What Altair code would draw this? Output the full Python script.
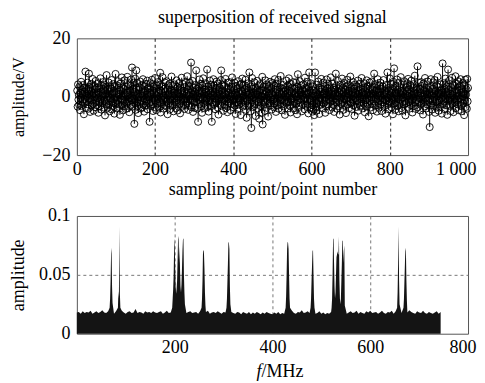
import altair as alt
import pandas as pd

# ---- top panel: received signal (sampling points 1..1000) ----
signal = [
    2.1, -3.4, 4.2, -1.0, 0.6, -2.8, 3.5, -4.6, 1.3, -0.4, 5.1, -3.1, 2.4, -1.7, 0.9, 4.0, -2.2, -6.0, 3.1, -0.8, 1.6, 8.6, -3.9, 2.7, -1.5,
    0.3, 4.8, -2.6, 1.9, -4.1, 7.9, -0.7, 3.3, -5.2, 2.0, -1.2, 4.4, -3.0, 0.5, 6.1, -2.4, 1.1, -4.8, 3.7, -0.2, 2.6, -3.6, 5.4, -1.9, 0.8,
    -2.9, 3.0, -0.5, 4.6, -5.5, 1.4, -1.8, 2.9, -3.3, 6.3, -0.9, 1.7, -4.4, 3.8, -2.0, 0.4, 5.0, -3.7, 2.2, -1.3, 4.1, -6.4, 0.7, 3.4, -2.5,
    7.4, -1.1, 2.5, -3.8, 0.1, 4.9, -2.7, 1.8, -5.0, 3.2, -0.6, 2.8, -4.3, 5.7, -1.6, 0.9, -3.2, 4.3, -2.1, 1.5, -5.8, 3.6, -0.3, 7.8, -2.3,
    1.2, -4.0, 3.9, -1.4, 5.3, -2.6, 0.6, -3.5, 2.3, -6.2, 4.5, -0.8, 1.9, -2.9, 6.6, -1.0, 3.1, -4.7, 0.2, 2.7, -3.3, 5.6, -1.7, 0.8, -4.2,
    3.5, -2.2, 1.3, 6.8, -3.9, 0.5, -1.6, 4.2, -5.3, 2.1, -0.4, 3.7, -2.8, 5.9, -1.2, 10.0, -3.4, 2.6, -0.7, 4.8, -2.0, -9.3, 1.6, 6.2, -4.5,
    3.0, 9.0, -1.9, 4.7, -3.1, 0.9, -5.6, 2.4, -0.1, 3.3, -2.4, 5.2, -4.0, 1.0, -1.4, 4.0, -3.6, 0.3, 6.0, -2.7, 1.7, -5.1, 3.6, -0.9, 2.0,
    -3.0, 4.4, -1.5, 0.7, 5.5, -4.3, 2.8, -0.2, 3.0, -2.1, -8.6, 1.4, 4.6, -3.2, 0.8, -1.8, 5.8, -2.5, 2.2, -4.9, 3.4, -0.6, 1.2, -3.5, 6.4,
    -1.3, 2.9, -4.6, 0.4, 3.8, -2.3, 5.0, -0.8, 1.6, -3.7, 4.1, -1.9, 8.2, -5.4, 2.0, -0.5, 3.5, -2.6, 6.7, -1.1, 0.3, -4.1, 2.7, -2.9, 4.9,
    -0.4, 1.8, -3.3, 5.3, -1.7, 2.5, -6.0, 0.6, 3.9, -2.2, 1.1, -4.4, 4.5, -0.9, 2.3, -3.0, 6.9, -1.4, 0.2, -2.7, 3.6, -5.0, 1.5, -0.3, 4.2,
    -2.0, 2.6, -3.9, 0.9, 5.6, -1.2, 3.2, -4.7, 1.3, -0.6, 4.7, -2.4, 0.1, -5.7, 3.0, -1.6, 2.1, 6.5, -3.4, 0.7, -1.0, 4.3, -2.8, 1.9, -4.2,
    3.4, -0.7, 5.1, -3.0, 1.0, -2.1, 7.0, -1.5, 2.4, -4.5, 0.5, 3.7, -2.9, 4.8, -0.9, 1.4, 11.7, -3.6, 2.2, -1.3, 5.4, -5.2, 0.8, 3.1, -2.0,
    1.6, -3.8, 4.0, -0.4, 9.0, -1.8, 2.7, -4.1, 0.2, -8.6, 3.3, -1.1, 5.9, -2.5, 1.2, -0.2, 4.4, -3.2, 2.0, -5.5, 3.8, -0.6, 6.3, -2.3, 0.9,
    -4.0, 2.5, -1.4, 4.6, -2.7, 1.7, -0.8, 9.3, -3.5, 0.6, 3.5, -5.1, 2.2, -1.6, 5.5, -0.3, 1.1, -3.3, 4.1, -8.6, 2.8, -1.9, 0.4, 6.0, -2.6,
    3.9, -0.5, 1.5, -4.3, 2.9, -2.0, 5.2, -1.0, 0.3, -3.7, 4.5, -6.1, 1.8, -0.7, 3.2, -2.4, 0.7, 5.7, 9.0, -3.1, 2.1, -1.5, 4.0, -4.8, 0.5,
    -1.2, 3.6, -2.8, 1.0, 6.1, -3.9, 0.8, -0.4, 2.9, -5.3, 4.7, -1.7, 1.3, -2.2, 5.0, -0.9, 2.4, -4.6, 0.1, 3.4, -2.5, 6.6, -1.3, 0.6, -3.6,
    2.3, -0.8, 4.8, -3.0, 1.2, -5.9, 3.7, -1.9, 0.4, 2.8, -4.2, 5.3, -0.6, 1.6, -2.7, 3.9, -1.1, 0.9, -6.3, 4.4, -2.1, 1.9, 6.2, -3.4, 0.2,
    -1.6, 4.1, -2.9, 2.6, -0.5, 5.8, -4.5, 1.4, -7.2, 3.0, -1.3, 0.7, 4.6, -3.1, 2.0, 8.3, -2.4, 1.1, -5.0, 3.5, -10.7, 0.3, 6.4, -1.8, 2.7,
    -3.5, 1.5, -0.2, 4.9, -2.6, 0.8, -6.6, 3.1, -1.0, 2.2, 5.4, -4.0, 0.6, -1.7, 3.8, -7.5, 1.7, -0.9, 4.3, -3.2, 2.5, -5.6, 0.1, 6.8, -9.5,
    2.1, -1.4, 3.3, -2.0, 0.9, -4.9, 5.6, -0.7, 1.8, -3.8, 4.2, -1.5, 2.6, -6.8, 0.4, 3.6, -2.2, 1.0, 5.1, -3.0, -0.3, 2.9, -4.4, 1.2, 4.7,
    -1.1, 0.5, -3.6, 3.9, -2.3, 6.0, -0.6, 1.3, -5.2, 2.4, -1.8, 4.5, -2.9, 0.2, 5.7, -4.1, 1.6, -0.4, 3.2, -2.5, 7.1, -1.2, 0.8, -4.7, 2.8,
    -0.9, 4.0, -3.3, 1.9, -1.5, 3.0, -6.2, 0.6, 2.3, -2.1, 5.5, -0.2, 1.1, -4.0, 3.7, -1.7, 6.3, -3.0, 0.3, 2.0, -5.4, 4.4, -1.0, 1.5, -2.8,
    3.1, -0.5, 5.0, -3.9, 0.9, -1.9, 2.7, -4.6, 1.2, 4.9, -2.4, 0.1, -6.0, 3.4, 7.7, -1.3, 2.2, -3.5, 0.7, 5.3, -2.0, 1.4, -0.8, 3.8, -5.0,
    0.6, 2.5, -2.7, 4.2, -1.1, 1.8, -4.3, 6.5, -0.4, 2.9, -3.1, 0.9, -1.6, 5.1, -2.5, 1.3, -5.7, 3.3, 8.3, -0.7, 2.0, -3.8, 4.6, -1.2, 0.4,
    -2.9, 3.5, -5.1, 1.0, -4.4, 2.1, -6.3, 0.3, 8.3, -3.6, 1.6, -4.8, 4.1, -2.2, 0.7, -3.4, 5.2, -1.5, 2.4, -5.9, 3.0, -0.6, 1.7, -2.7, 6.1,
    -1.0, 2.6, -4.0, 0.8, 4.8, -2.3, 1.2, -0.3, 3.6, -5.5, 2.0, -1.4, 5.9, -3.2, 0.5, 2.8, -2.6, 4.3, -0.9, 1.5, -4.6, 3.2, -1.8, 6.6, -0.2,
    1.9, -3.7, 4.5, -1.3, 0.6, -2.8, 3.0, -5.2, 2.3, -0.7, 1.1, 7.9, -2.0, 3.8, -4.1, 0.2, 5.4, -1.6, 2.7, -3.3, 1.4, -6.1, 4.0, -0.5, 2.2,
    -2.5, 0.9, 6.2, -1.9, 3.1, -4.5, 1.7, -0.8, 4.7, -3.0, 0.4, 2.4, -5.6, 3.5, -1.2, 5.8, -2.7, 1.0, -0.4, 4.1, -3.9, 2.0, -1.7, 6.9, -2.2,
    0.7, 3.3, -4.2, 1.6, -1.0, 5.0, -2.9, 0.2, 2.8, -6.5, 4.2, -0.6, 1.3, -3.5, 3.6, -1.5, 0.8, 5.5, -4.8, 2.1, -2.1, 1.0, 4.4, -0.3, -3.1,
    2.6, -1.8, 6.4, -0.9, 1.5, -4.0, 3.1, -2.4, 0.5, 4.6, -5.3, 1.9, -1.1, 2.9, -3.4, 5.6, -0.7, 1.2, -2.6, 3.7, -6.7, 0.3, 4.9, -1.4, 2.3,
    -3.7, 1.1, -0.2, 5.2, -2.5, 2.5, -4.6, 0.9, 3.4, 7.9, -1.6, 1.8, -3.0, 4.3, -0.8, 2.2, -5.1, 0.6, 6.0, -2.2, 1.4, -3.8, 3.9, -1.2, 0.4,
    4.8, -2.7, 1.7, -4.9, 2.8, -0.5, 3.5, -1.9, 5.7, -3.4, 0.8, -0.9, 2.1, -5.8, 4.0, -1.3, 1.2, -2.8, 8.3, -0.4, 3.0, -4.3, 1.9, -1.6, 6.3,
    -2.0, 0.5, 4.4, -3.6, 1.3, -1.1, 2.6, -6.0, 5.1, -0.7, 9.7, -2.4, 1.0, -4.5, 3.6, -1.8, 0.3, 5.9, -3.2, 2.3, -0.6, 4.7, -5.0, 1.5, -2.3,
    3.2, -1.0, 6.7, -3.9, 0.7, 2.0, -4.8, 1.6, -0.3, 4.1, -2.6, 5.3, -1.5, 0.9, -6.4, 3.3, -2.2, 1.8, 4.6, -3.5, 0.1, 6.1, -1.7, 2.5, -4.1,
    1.1, -0.8, 3.9, -2.9, 5.5, -1.4, 0.6, -5.4, 2.9, -0.4, 4.3, -3.1, 1.4, 7.2, -2.0, 0.8, -4.2, 3.1, -1.2, 2.4, 10.4, -3.6, 0.5, 4.8, -1.9,
    -0.5, 2.7, -4.7, 1.2, 5.0, -2.3, 3.7, -1.0, 0.2, -6.1, 4.5, -1.8, 2.1, -3.3, 6.4, -0.6, 1.6, -4.0, 3.0, -2.6, 0.9, 5.2, -1.3, 2.3, -5.2,
    1.8, -10.4, 3.4, -0.9, 6.0, -2.8, 0.4, -4.4, 2.6, -1.5, 4.9, -3.0, 1.1, -0.2, 5.7, -5.5, 2.0, -1.9, 3.8, -3.7, 0.7, 6.8, -2.1, 1.3, -4.8,
    3.3, -1.2, 0.8, -3.4, 4.2, -0.7, 2.2, -5.8, 1.5, 11.4, -2.5, 0.3, 4.6, -1.6, 2.9, -4.3, 6.2, -0.9, 1.7, -2.9, 3.5, -6.2, 0.6, 9.3, -1.4,
    2.4, -3.1, 5.6, -0.4, 1.0, -4.9, 3.2, -1.7, 6.5, -2.4, 0.5, 4.0, -5.3, 1.9, -0.8, 3.7, -2.0, 7.0, -3.9, 1.2, -1.1, 4.4, -2.6, 0.3, 5.3,
    -4.6, 2.1, -0.5, 3.6, -1.8, 6.0, -3.2, 1.4, -5.0, 2.8, 0.2, 4.7, -2.3, 1.0, -6.3, 3.9, -1.3, 5.8, -3.5, 0.7, 2.5, -4.1, 6.1, -1.6, 3.0,
]
sample_no = list(range(1, len(signal) + 1))
top_ticks = [0, 200, 400, 600, 800, 1000]
top_yticks = [-20, 0, 20]

# ---- bottom panel: spectrum ----
floor_step_mhz = 4
floor_amp = [
    0.018, 0.0185, 0.017, 0.019, 0.0175, 0.0185, 0.018, 0.0195, 0.017, 0.018, 0.019, 0.0175, 0.0185, 0.020, 0.018, 0.0175, 0.019, 0.018, 0.0185, 0.017,
    0.019, 0.018, 0.0175, 0.0195, 0.018, 0.017, 0.0185, 0.019, 0.0175, 0.018, 0.021, 0.0175, 0.0185, 0.018, 0.017, 0.019, 0.018, 0.0185, 0.0175, 0.019,
    0.018, 0.0175, 0.0185, 0.019, 0.017, 0.018, 0.0195, 0.0175, 0.018, 0.019, 0.0175, 0.0185, 0.018, 0.017, 0.0195, 0.018, 0.0175, 0.0185, 0.019, 0.0175,
    0.018, 0.0185, 0.017, 0.019, 0.018, 0.0175, 0.0185, 0.0195, 0.017, 0.018, 0.0185, 0.0175, 0.019, 0.018, 0.017, 0.0185, 0.018, 0.0175, 0.019, 0.0185,
    0.0175, 0.017, 0.0185, 0.018, 0.0165, 0.0185, 0.0175, 0.017, 0.0185, 0.0165, 0.018, 0.017, 0.0185, 0.0175, 0.0165, 0.018, 0.017, 0.0185, 0.0175, 0.017,
    0.0165, 0.018, 0.017, 0.0185, 0.0165, 0.0175, 0.017, 0.0185, 0.018, 0.017, 0.0195, 0.0175, 0.017, 0.0185, 0.018, 0.020, 0.0175, 0.018, 0.019, 0.0175,
    0.018, 0.0195, 0.017, 0.0175, 0.019, 0.017, 0.018, 0.0165, 0.0175, 0.017, 0.0185, 0.018, 0.0165, 0.0175, 0.0165, 0.017, 0.0185, 0.0175, 0.017, 0.018,
    0.019, 0.0175, 0.018, 0.0195, 0.017, 0.0185, 0.0175, 0.017, 0.019, 0.018, 0.0195, 0.0175, 0.018, 0.0185, 0.017, 0.018, 0.0195, 0.0175, 0.017, 0.0185,
    0.018, 0.0195, 0.017, 0.019, 0.018, 0.021, 0.0175, 0.017, 0.0195, 0.018, 0.020, 0.0185, 0.0175, 0.017, 0.019, 0.018, 0.0175, 0.0195, 0.0175, 0.017,
    0.0185, 0.0175, 0.017, 0.018, 0.019, 0.017, 0.0185,
]
floor_freq = [i * floor_step_mhz for i in range(len(floor_amp))]

peak_groups = [
    ([67, 68, 69, 70, 71, 72, 73], [0.022, 0.030, 0.045, 0.068, 0.073, 0.040, 0.026]),
    ([84, 85, 86, 87, 88, 89], [0.022, 0.036, 0.030, 0.091, 0.034, 0.022]),
    ([195, 196, 197, 198, 199, 200, 201, 202, 203, 204, 205, 206, 207, 208, 209, 210, 211, 212, 213, 214, 215, 216, 217, 218, 219, 220, 221],
     [0.022, 0.030, 0.038, 0.050, 0.074, 0.081, 0.058, 0.040, 0.034, 0.038, 0.045, 0.062, 0.080, 0.083, 0.060, 0.074, 0.055, 0.040, 0.035, 0.042, 0.055, 0.070, 0.080, 0.081, 0.050, 0.035, 0.025]),
    ([255, 256, 257, 258, 259, 260, 261, 262, 263], [0.022, 0.030, 0.045, 0.070, 0.071, 0.068, 0.055, 0.035, 0.024]),
    ([306, 307, 308, 309, 310, 311, 312, 313, 314], [0.022, 0.030, 0.045, 0.060, 0.078, 0.077, 0.072, 0.040, 0.025]),
    ([427, 428, 429, 430, 431, 432, 433, 434, 435, 436], [0.022, 0.032, 0.050, 0.072, 0.078, 0.077, 0.072, 0.050, 0.030, 0.022]),
    ([478, 479, 480, 481, 482, 483, 484, 485, 486], [0.022, 0.030, 0.045, 0.058, 0.070, 0.071, 0.050, 0.030, 0.022]),
    ([521, 522, 523, 524, 525, 526, 527, 528, 529, 530, 531, 532, 533, 534, 535, 536, 537, 538, 539, 540, 541, 542, 543, 544, 545, 546, 547, 548],
     [0.022, 0.030, 0.050, 0.080, 0.081, 0.060, 0.040, 0.030, 0.035, 0.050, 0.065, 0.067, 0.070, 0.068, 0.067, 0.0825, 0.045, 0.030, 0.025, 0.030, 0.045, 0.060, 0.079, 0.079, 0.060, 0.070, 0.075, 0.024]),
    ([655, 656, 657, 658, 659, 660], [0.022, 0.035, 0.060, 0.091, 0.045, 0.025]),
    ([668, 669, 670, 671, 672, 673, 674, 675], [0.022, 0.030, 0.045, 0.060, 0.073, 0.070, 0.045, 0.028]),
]

# ---- build tables ----
sig_df = pd.DataFrame({"n": sample_no, "v": signal})

spec_df = pd.DataFrame({"f": floor_freq, "a": floor_amp})
for pf, pa in peak_groups:
    spec_df = spec_df[(spec_df["f"] < min(pf)) | (spec_df["f"] > max(pf))]
peaks_df = pd.concat([pd.DataFrame({"f": pf, "a": pa}) for pf, pa in peak_groups])
spec_df = pd.concat([spec_df, peaks_df]).sort_values("f").reset_index(drop=True)

FONT = "Liberation Serif"
W = 392

# ---- top chart ----
xt = alt.X("n:Q", scale=alt.Scale(domain=[0, 1000], nice=False),
           axis=alt.Axis(values=top_ticks, title="sampling point/point number",
                         labelExpr="datum.value === 1000 ? '1 000' : datum.label",
                         labelFlush=False,
                         labelAlign={"condition": {"test": "datum.value == 1000", "value": "right"}, "value": "center"},
                         labelOffset={"condition": {"test": "datum.value == 1000", "value": 8}, "value": 0},
                         grid=True, gridColor="#222", gridDash=[3, 3], gridWidth=1,
                         gridOpacity={"condition": {"test": "datum.value == 0 || datum.value == 1000", "value": 0}, "value": 1},
                         domain=False, ticks=False, labelPadding=5, titlePadding=2))
yt = alt.Y("v:Q", scale=alt.Scale(domain=[-20, 20], nice=False),
           axis=alt.Axis(values=top_yticks, title="amplitude/V", grid=False, domain=False, ticks=False,
                         labelFlush=False,
                         labelPadding=7, titleX=-58, titleBaseline="middle", titleFontSize=16))

base = alt.Chart(sig_df)
stems = base.mark_rule(color="black", strokeWidth=1).encode(x=xt, y=yt, y2=alt.datum(0))
circles = base.mark_point(shape="circle", filled=False, color="black", size=50, strokeWidth=0.9,
                          opacity=1).encode(x="n:Q", y="v:Q")
baseline = alt.Chart(pd.DataFrame({"z": [0]})).mark_rule(color="black", strokeWidth=1).encode(y="z:Q")

top = alt.layer(stems, circles, baseline).properties(
    width=W, height=117,
    title=alt.TitleParams("superposition of received signal", font=FONT, fontSize=18,
                          fontWeight="normal", color="black", anchor="middle", frame="group", offset=2),
)

# ---- bottom chart ----
xb = alt.X("f:Q", scale=alt.Scale(domain=[0, 800], nice=False),
           axis=alt.Axis(values=[200, 400, 600, 800], title=None, labelFlush=False,
                         labelAlign={"condition": {"test": "datum.value == 800", "value": "right"}, "value": "center"},
                         labelOffset={"condition": {"test": "datum.value == 800", "value": 8}, "value": 0},
                         grid=True, gridColor="#777", gridDash=[3, 3], gridWidth=1,
                         gridOpacity={"condition": {"test": "datum.value >= 800", "value": 0}, "value": 1},
                         domain=False, ticks=False, labelPadding=5))
yb = alt.Y("a:Q", scale=alt.Scale(domain=[0, 0.1], nice=False),
           axis=alt.Axis(values=[0, 0.05, 0.1], format="~g", title="amplitude", labelFlush=False,
                         grid=True, gridColor="#777", gridDash=[3, 3], gridWidth=1,
                         gridOpacity={"condition": {"test": "datum.value == 0.05", "value": 1}, "value": 0},
                         domain=False, ticks=False, labelPadding=7, titleX=-58, titleBaseline="middle"))

area = alt.Chart(spec_df).mark_area(color="#141414", interpolate="linear").encode(x=xb, y=yb)
f_txt = alt.Chart(pd.DataFrame({"t": ["f"]})).mark_text(
    font=FONT, fontSize=18, fontStyle="italic", align="right", baseline="alphabetic", color="black"
).encode(text="t:N", x=alt.value(185), y=alt.value(161))
mhz_txt = alt.Chart(pd.DataFrame({"t": ["/MHz"]})).mark_text(
    font=FONT, fontSize=18, align="left", baseline="alphabetic", color="black"
).encode(text="t:N", x=alt.value(185), y=alt.value(161))

bottom = alt.layer(area, f_txt, mhz_txt).properties(width=W, height=118)

chart = alt.vconcat(top, bottom, spacing=61, bounds="flush").properties(
    padding={"left": 1, "top": 0, "right": 0, "bottom": 0},
    background="white",
).configure_view(stroke="#555", strokeWidth=1).configure_axis(
    labelFont=FONT, titleFont=FONT, labelFontSize=18, titleFontSize=18,
    labelColor="black", titleColor="black", titleFontWeight="normal"
)

chart.save("out.html", embed_options={"renderer": "svg", "actions": False})
